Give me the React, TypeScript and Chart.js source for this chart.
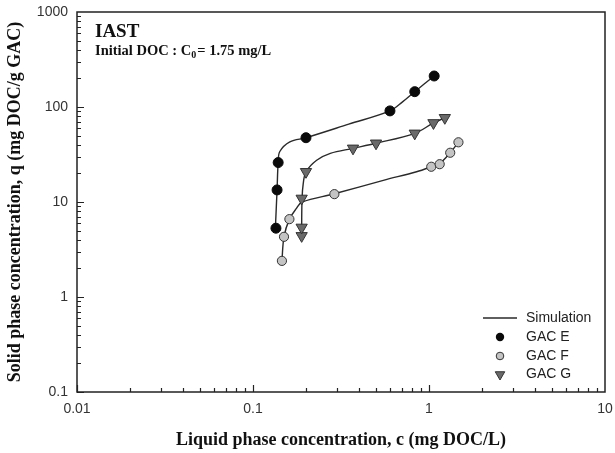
import React, { useEffect, useRef } from "react";
import { Chart, registerables } from "chart.js";
Chart.register(...registerables);

// Measured data (c in mg DOC/L, q in mg DOC/g GAC)
const gacE_c = [0.135, 0.137, 0.139, 0.2, 0.6, 0.83, 1.07];
const gacE_q = [5.3, 13.4, 26, 47.5, 91, 145, 212];
const gacF_c = [0.146, 0.15, 0.161, 0.29, 1.03, 1.15, 1.32, 1.47];
const gacF_q = [2.4, 4.3, 6.6, 12.1, 23.5, 25, 33, 42.5];
const gacG_c = [0.189, 0.189, 0.189, 0.2, 0.37, 0.5, 0.83, 1.06, 1.23];
const gacG_q = [4.4, 5.4, 10.9, 20.8, 36.7, 41.5, 52.8, 68, 77];

// IAST simulation curves
const simE_c = [0.134, 0.137, 0.139, 0.142, 0.162, 0.2, 0.35, 0.6, 0.71, 0.83, 1.07];
const simE_q = [5.3, 13.4, 26, 34, 43, 47.5, 66, 91, 114, 145, 212];
const simF_c = [0.146, 0.15, 0.161, 0.176, 0.19, 0.29, 0.55, 0.85, 1.03, 1.15, 1.32, 1.47];
const simF_q = [2.4, 4.3, 6.6, 8.5, 10, 12.2, 16.9, 20.8, 23.5, 25.5, 33, 42.5];
const simG_c = [0.189, 0.189, 0.19, 0.193, 0.2, 0.23, 0.275, 0.37, 0.5, 0.83, 1.06, 1.23];
const simG_q = [4.4, 5.5, 10.9, 15.7, 20.8, 27.5, 32.5, 36.7, 41.5, 52.8, 68, 77];

const xTickValues = [0.01, 0.1, 1, 10];
const xTickLabels = ["0.01", "0.1", "1", "10"];
const yTickValues = [0.1, 1, 10, 100, 1000];
const yTickLabels = ["0.1", "1", "10", "100", "1000"];

const legendLabels = ["Simulation", "GAC E", "GAC F", "GAC G"];

const SERIF = "'Liberation Serif', 'Times New Roman', serif";
const SANS = "'Liberation Sans', Arial, sans-serif";

const LINE_COLOR = "#2a2a2a";
const E_FILL = "#0a0a0a";
const F_FILL = "#c4c4c4";
const G_FILL = "#6a6a6a";
const EDGE = "#333333";

const pts = (xs: number[], ys: number[]) => xs.map((x, i) => ({ x, y: ys[i] }));

function drawTri(ctx: CanvasRenderingContext2D, x: number, y: number, r: number) {
  ctx.beginPath();
  ctx.moveTo(x, y + r);
  ctx.lineTo(x - Math.sin(Math.PI / 3) * r, y - r / 2);
  ctx.lineTo(x + Math.sin(Math.PI / 3) * r, y - r / 2);
  ctx.closePath();
}

const decorPlugin = {
  id: "decor",
  afterDraw(chart: any) {
    const ctx: CanvasRenderingContext2D = chart.ctx;
    const { left, right, top, bottom } = chart.chartArea;
    const xs = chart.scales.x;
    const ys = chart.scales.y;
    ctx.save();
    // frame
    ctx.strokeStyle = "#222";
    ctx.lineWidth = 1.5;
    ctx.strokeRect(left, top, right - left, bottom - top);
    // inside ticks
    ctx.lineWidth = 1.2;
    ctx.beginPath();
    for (let d = -2; d <= 0; d++) {
      for (let m = 1; m <= 9; m++) {
        const v = m * Math.pow(10, d);
        const px = Math.round(xs.getPixelForValue(v)) + 0.5;
        const len = m === 1 ? 7 : 4;
        ctx.moveTo(px, bottom);
        ctx.lineTo(px, bottom - len);
      }
    }
    for (let d = -1; d <= 2; d++) {
      for (let m = 1; m <= 9; m++) {
        const v = m * Math.pow(10, d);
        const py = Math.round(ys.getPixelForValue(v)) + 0.5;
        const len = m === 1 ? 7 : 4;
        ctx.moveTo(left, py);
        ctx.lineTo(left + len, py);
      }
    }
    ctx.stroke();

    // axis titles
    ctx.fillStyle = "#111";
    ctx.font = `bold 18px ${SERIF}`;
    ctx.textAlign = "center";
    ctx.textBaseline = "middle";
    ctx.fillText("Liquid phase concentration, c (mg DOC/L)", (left + right) / 2, 440);
    ctx.save();
    ctx.translate(15, (top + bottom) / 2);
    ctx.rotate(-Math.PI / 2);
    ctx.fillText("Solid phase concentration, q (mg DOC/g GAC)", 0, 0);
    ctx.restore();

    // annotation
    ctx.textAlign = "left";
    ctx.textBaseline = "alphabetic";
    ctx.font = `bold 19px ${SERIF}`;
    ctx.fillText("IAST", 95, 37);
    ctx.font = `bold 14.5px ${SERIF}`;
    let x = 95;
    const t1 = "Initial DOC : C";
    ctx.fillText(t1, x, 55);
    x += ctx.measureText(t1).width;
    ctx.font = `bold 10px ${SERIF}`;
    ctx.fillText("0", x, 58);
    x += ctx.measureText("0").width + 1;
    ctx.font = `bold 14.5px ${SERIF}`;
    ctx.fillText("= 1.75 mg/L", x, 55);

    // legend
    const lx = 500;
    const ly = [318, 337, 356, 374];
    ctx.strokeStyle = LINE_COLOR;
    ctx.lineWidth = 1.4;
    ctx.beginPath();
    ctx.moveTo(483, ly[0]);
    ctx.lineTo(517, ly[0]);
    ctx.stroke();
    ctx.lineWidth = 1;
    ctx.fillStyle = E_FILL;
    ctx.beginPath();
    ctx.arc(lx, ly[1], 4.2, 0, Math.PI * 2);
    ctx.fill();
    ctx.fillStyle = F_FILL;
    ctx.strokeStyle = EDGE;
    ctx.beginPath();
    ctx.arc(lx, ly[2], 3.8, 0, Math.PI * 2);
    ctx.fill();
    ctx.stroke();
    ctx.fillStyle = G_FILL;
    drawTri(ctx, lx, ly[3] + 0.5, 5.5);
    ctx.fill();
    ctx.stroke();

    ctx.fillStyle = "#222";
    ctx.font = `14px ${SANS}`;
    ctx.textBaseline = "middle";
    legendLabels.forEach((t, i) => ctx.fillText(t, 526, ly[i]));
    ctx.restore();
  },
};

export default function App() {
  const ref = useRef<HTMLCanvasElement | null>(null);
  useEffect(() => {
    document.body.style.margin = "0";
    if (!ref.current) return;
    const lineDs = (data: any[]) => ({
      type: "line" as const,
      data,
      showLine: true,
      borderColor: LINE_COLOR,
      borderWidth: 1.4,
      pointRadius: 0,
      tension: 0.35,
      fill: false,
    });
    const chart = new Chart(ref.current, {
      type: "scatter",
      data: {
        datasets: [
          {
            label: "GAC E",
            data: pts(gacE_c, gacE_q),
            backgroundColor: E_FILL,
            borderColor: E_FILL,
            pointRadius: 5,
            borderWidth: 1,
          },
          {
            label: "GAC F",
            data: pts(gacF_c, gacF_q),
            backgroundColor: F_FILL,
            borderColor: EDGE,
            pointRadius: 4.6,
            borderWidth: 1,
          },
          {
            label: "GAC G",
            data: pts(gacG_c, gacG_q),
            backgroundColor: G_FILL,
            borderColor: EDGE,
            pointStyle: "triangle",
            rotation: 180,
            pointRadius: 6.5,
            borderWidth: 1,
          },
          { label: "simE", ...lineDs(pts(simE_c, simE_q)) } as any,
          { label: "simF", ...lineDs(pts(simF_c, simF_q)) } as any,
          { label: "simG", ...lineDs(pts(simG_c, simG_q)) } as any,
        ],
      },
      options: {
        responsive: false,
        animation: false,
        devicePixelRatio: 1,
        layout: { padding: { top: 12, right: 10, left: 0, bottom: 0 } },
        plugins: { legend: { display: false }, tooltip: { enabled: false } },
        scales: {
          x: {
            type: "logarithmic",
            min: 0.01,
            max: 10,
            grid: { display: false, drawTicks: false },
            border: { display: false },
            afterBuildTicks: (s: any) => {
              s.ticks = xTickValues.map((v) => ({ value: v }));
            },
            afterFit: (s: any) => {
              s.height = 61;
              s.paddingLeft = 0;
              s.paddingRight = 0;
              s.paddingTop = 0;
              s.paddingBottom = 0;
            },
            ticks: {
              autoSkip: false,
              maxRotation: 0,
              padding: 9,
              color: "#333",
              font: { family: SANS, size: 14 },
              callback: (v: any) => {
                const i = xTickValues.findIndex((t) => Math.abs(t - Number(v)) < 1e-9);
                return i >= 0 ? xTickLabels[i] : "";
              },
            },
          },
          y: {
            type: "logarithmic",
            min: 0.1,
            max: 1000,
            grid: { display: false, drawTicks: false },
            border: { display: false },
            afterBuildTicks: (s: any) => {
              s.ticks = yTickValues.map((v) => ({ value: v }));
            },
            afterFit: (s: any) => {
              s.width = 77;
              s.paddingLeft = 0;
              s.paddingRight = 0;
              s.paddingTop = 0;
              s.paddingBottom = 0;
            },
            ticks: {
              autoSkip: false,
              padding: 9,
              color: "#333",
              font: { family: SANS, size: 14 },
              callback: (v: any) => {
                const i = yTickValues.findIndex((t) => Math.abs(t - Number(v)) < 1e-9);
                return i >= 0 ? yTickLabels[i] : "";
              },
            },
          },
        },
      },
      plugins: [decorPlugin],
    });
    return () => chart.destroy();
  }, []);
  return (
    <div style={{ width: 615, height: 453 }}>
      <canvas ref={ref} width={615} height={453} style={{ display: "block" }} />
    </div>
  );
}
